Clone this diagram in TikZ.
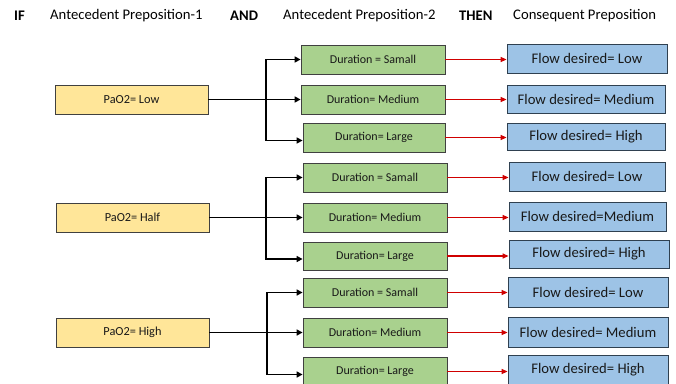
\documentclass[tikz,border=0pt]{standalone}
\usepackage{fontspec}
\setmainfont{Carlito}
\usetikzlibrary{arrows.meta}
\definecolor{yfill}{HTML}{FFE699}
\definecolor{gfill}{HTML}{A9D18E}
\definecolor{bfill}{HTML}{9DC3E6}
\definecolor{bordc}{HTML}{404040}
\definecolor{bbord}{HTML}{2F4050}
\definecolor{redc}{HTML}{D00000}
\tikzset{
  box/.style={draw=bordc, line width=0.8pt, inner sep=0pt, minimum height=29pt, align=center, text=black!90},
  ybox/.style={box, fill=yfill, minimum width=153pt, font=\fontsize{12.3}{14}\selectfont},
  gbox/.style={box, fill=gfill, minimum width=144pt, font=\fontsize{12}{14}\selectfont},
  bbox/.style={box, draw=bbord, fill=bfill, minimum width=158pt, font=\fontsize{14.67}{17}\selectfont},
  hdr/.style={anchor=west, inner sep=0pt, font=\fontsize{14.67}{17}\selectfont},
  hdrb/.style={hdr, font=\fontsize{14.67}{17}\selectfont\bfseries},
  blk/.style={line width=1.6pt, -{Triangle[length=6pt,width=6pt]}},
  redarr/.style={line width=1.3pt, draw=redc, -{Triangle[length=6pt,width=5pt]}, color=redc}
}
\begin{document}
\begin{tikzpicture}[x=1pt,y=-1pt]
\useasboundingbox (0,0) rectangle (676,383);
\fill[white] (0,0) rectangle (676,383);
% headers
\node[hdrb] (hif) at (14,16) {IF};
\node[hdr] (ha1) at (50,16) {Antecedent Preposition-1};
\node[hdrb] (hand) at (230,16) {AND};
\node[hdr] (ha2) at (283,16) {Antecedent Preposition-2};
\node[hdrb] (hthen) at (459,16) {THEN};
\node[hdr] (hcons) at (513,16) {Consequent Preposition};
% group 1
\node[ybox] (y1) at (131.5,99.5) {PaO2= Low};
\node[gbox] (g1a) at (373,59.5) {Duration = Samall};
\node[gbox] (g1b) at (373,99.5) {Duration= Medium};
\node[gbox, minimum width=142pt] (g1c) at (374,137.5) {Duration= Large};
\node[bbox, minimum width=160pt] (b1a) at (587,58.5) {Flow desired= Low};
\node[bbox, minimum height=28pt] (b1b) at (586,99) {Flow desired= Medium};
\node[bbox, minimum height=27pt] (b1c) at (586,136.5) {Flow desired= High};
% group 2
\node[ybox] (y2) at (132.5,217.5) {PaO2= Half};
\node[gbox] (g2a) at (375,177.5) {Duration = Samall};
\node[gbox] (g2b) at (375,217.5) {Duration= Medium};
\node[gbox, minimum height=28pt] (g2c) at (375,256) {Duration= Large};
\node[bbox, minimum width=156pt] (b2a) at (587,176.5) {Flow desired= Low};
\node[bbox, minimum width=157pt] (b2b) at (587.5,216.5) {Flow desired=Medium};
\node[bbox, minimum width=160pt, minimum height=28pt] (b2c) at (589,254) {Flow desired= High};
% group 3
\node[ybox] (y3) at (132.5,332.5) {PaO2= High};
\node[gbox] (g3a) at (375,292.5) {Duration = Samall};
\node[gbox] (g3b) at (375,332.5) {Duration= Medium};
\node[gbox] (g3c) at (375,371.5) {Duration= Large};
\node[bbox, minimum width=160pt, minimum height=30pt] (b3a) at (588,292) {Flow desired= Low};
\node[bbox, minimum width=160pt, minimum height=30pt] (b3b) at (588,332) {Flow desired= Medium};
\node[bbox, minimum width=160pt, minimum height=30pt] (b3c) at (588,370) {Flow desired= High};
% junctions
\coordinate (j1) at (266,100);
\coordinate (j2) at (266,218);
\coordinate (j3) at (267,333);
% black connectors
\foreach \g in {1,2,3}{
  \draw[blk] (y\g.east) -- (g\g b.west);
  \draw[blk] (j\g) |- (g\g a.west);
  \draw[blk] (j\g) |- ([yshift=-3pt]g\g c.west);
}
% red connectors
\foreach \g in {1,2,3}{
  \foreach \r in {a,b,c}{
    \draw[redarr] (g\g\r.east) -- (b\g\r.west |- g\g\r.east);
  }
}
\end{tikzpicture}
\end{document}
